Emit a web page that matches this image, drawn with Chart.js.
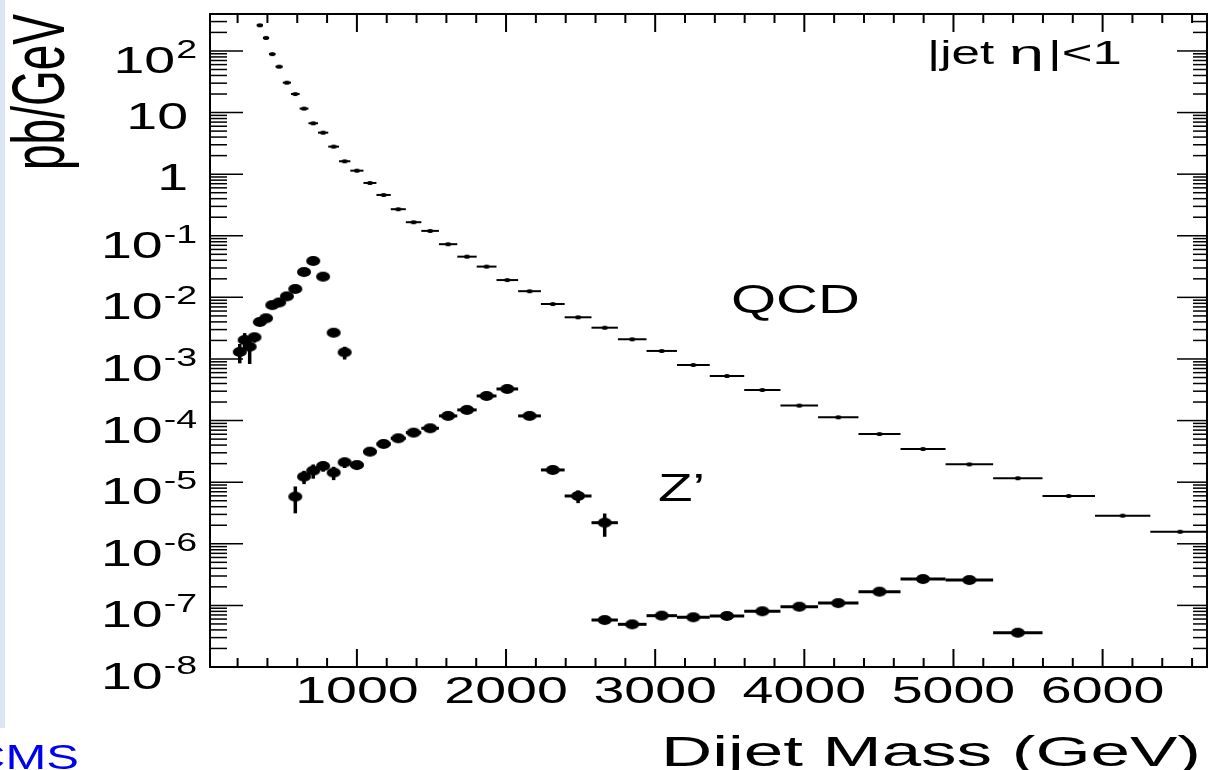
<!DOCTYPE html>
<html>
<head>
<meta charset="utf-8">
<title>Dijet Mass - QCD and Z'</title>
<script src="https://cdn.jsdelivr.net/npm/chart.js@4/dist/chart.umd.min.js"></script>
<style>
  html, body { margin: 0; padding: 0; background: #fff; }
  canvas { display: block; }
</style>
</head>
<body>
<canvas id="myChart" width="1212" height="770"></canvas>
<script>
// dijet mass bin edges (GeV)
const binEdges = [198, 231, 264, 298, 328, 370, 411, 454, 503, 558, 616, 675, 739, 808, 880, 956,
  1044, 1131, 1227, 1328, 1432, 1550, 1673, 1803, 1936, 2081, 2234, 2393, 2573, 2750, 2942, 3146,
  3366, 3597, 3840, 4092, 4363, 4645, 4947, 5266, 5597, 5949, 6320, 6720];

// QCD (pb/GeV), starting at bin 4
const qcdFirstBin = 4;
const qcdValues = [261, 163, 89, 55.6, 30.6, 20, 11.6, 6.7, 4.72, 2.8, 1.62, 1.14, 0.72, 0.46, 0.27,
  0.166, 0.12, 0.073, 0.0458, 0.0316, 0.0191, 0.0126, 7.8e-3, 4.75e-3, 3.22e-3, 2.09e-3, 1.35e-3,
  8.0e-4, 5.3e-4, 3.14e-4, 1.75e-4, 1.13e-4, 6.05e-5, 3.46e-5, 1.95e-5, 1.16e-5, 5.97e-6, 2.86e-6, 1.57e-6];

// Z' 0.7 TeV
const zp700FirstBin = 0;
const zp700Values = [1.30e-3, 2.03e-3, 1.58e-3, 2.25e-3, 3.99e-3, 4.58e-3, 7.5e-3, 8.26e-3, 1.04e-2,
  1.37e-2, 2.58e-2, 3.90e-2, 2.17e-2, 2.67e-3, 1.28e-3];
const zp700Errors = [0.45e-3, 0.6e-3, 0.75e-3, 0.4e-3, 0.5e-3, 0.5e-3, 0.5e-3, 0.6e-3, 0.7e-3,
  0.8e-3, 1.0e-3, 1.2e-3, 1.0e-3, 0.3e-3, 0.3e-3];

// Z' 2 TeV
const zp2000FirstBin = 9;
const zp2000Values = [5.82e-6, 1.23e-5, 1.54e-5, 1.83e-5, 1.43e-5, 2.1e-5, 1.9e-5, 3.13e-5, 4.17e-5,
  5.16e-5, 6.37e-5, 7.5e-5, 1.19e-4, 1.49e-4, 2.51e-4, 3.26e-4, 1.19e-4, 1.58e-5, 5.97e-6, 2.2e-6];
const zp2000Errors = [2.7e-6, 3e-6, 4e-6, 3.5e-6, 3.5e-6, 4e-6, 3e-6, 2e-6, 2.5e-6, 3e-6, 3.5e-6,
  4e-6, 5e-6, 6e-6, 8e-6, 9e-6, 5e-6, 1.2e-6, 1.4e-6, 0.9e-6];

// Z' 5 TeV
const zp5000FirstBin = 28;
const zp5000Values = [5.79e-8, 4.93e-8, 6.81e-8, 6.41e-8, 6.73e-8, 8.02e-8, 9.52e-8, 1.09e-7,
  1.67e-7, 2.68e-7, 2.58e-7, 3.6e-8];
const zp5000Errors = [1.5e-9, 1.5e-9, 2e-9, 2e-9, 2e-9, 2e-9, 2.5e-9, 3e-9, 4e-9, 5e-9, 5e-9, 1.5e-9];

// axis labels
const xTickLabels = [1000, 2000, 3000, 4000, 5000, 6000];
const xMinorStep = 200;
const yDecades = [-8, -7, -6, -5, -4, -3, -2, -1, 0, 1, 2];

const FONT = '"Liberation Sans", Arial, Helvetica, sans-serif';

function binnedPoints(first, values, errors) {
  return values.map((v, i) => ({
    x: (binEdges[first + i] + binEdges[first + i + 1]) / 2,
    y: v,
    xMin: binEdges[first + i],
    xMax: binEdges[first + i + 1],
    yErr: errors ? errors[i] : 0
  }));
}

// the reference is squeezed wide, so markers are ellipses
function ellipseMarker(w, h) {
  const c = document.createElement('canvas');
  c.width = w + 2;
  c.height = h + 2;
  const g = c.getContext('2d');
  g.fillStyle = '#000';
  g.beginPath();
  g.ellipse(c.width / 2, c.height / 2, w / 2, h / 2, 0, 0, Math.PI * 2);
  g.fill();
  return c;
}

// text drawn wider than its font, like in the reference
function wideText(ctx, text, x, y, size, sx, align) {
  ctx.save();
  ctx.font = size + 'px ' + FONT;
  const w = ctx.measureText(text).width * sx;
  let left = x;
  if (align === 'center') left = x - w / 2;
  else if (align === 'right') left = x - w;
  ctx.translate(left, y);
  ctx.scale(sx, 1);
  ctx.textAlign = 'left';
  ctx.textBaseline = 'alphabetic';
  ctx.fillText(text, 0, 0);
  ctx.restore();
  return w;
}

function line(ctx, x1, y1, x2, y2) {
  ctx.beginPath();
  ctx.moveTo(x1, y1);
  ctx.lineTo(x2, y2);
  ctx.stroke();
}

const errorBars = {
  id: 'errorBars',
  beforeDatasetsDraw(chart) {
    const { ctx, chartArea: a, scales: { x, y } } = chart;
    ctx.save();
    ctx.beginPath();
    ctx.rect(a.left, a.top, a.right - a.left, a.bottom - a.top);
    ctx.clip();
    ctx.strokeStyle = '#000';
    chart.data.datasets.forEach((ds) => {
      ds.data.forEach((p) => {
        const py = y.getPixelForValue(p.y);
        ctx.lineWidth = ds.barWidth;
        line(ctx, x.getPixelForValue(p.xMin), py, x.getPixelForValue(p.xMax), py);
        if (p.yErr > 0) {
          const px = x.getPixelForValue(p.x);
          const lo = Math.max(p.y - p.yErr, y.min);
          ctx.lineWidth = ds.errWidth;
          line(ctx, px, y.getPixelForValue(p.y + p.yErr), px, y.getPixelForValue(lo));
        }
      });
    });
    ctx.restore();
  }
};

const rootAxes = {
  id: 'rootAxes',
  beforeDraw(chart) {
    const ctx = chart.ctx;
    ctx.save();
    ctx.fillStyle = '#dce5f4';
    ctx.fillRect(0, 0, 5, 728);
    ctx.restore();
  },
  afterDraw(chart) {
    const { ctx, chartArea: a, scales: { x, y } } = chart;
    ctx.save();
    ctx.strokeStyle = '#000';
    ctx.fillStyle = '#000';

    // y ticks, inside, both sides
    ctx.lineWidth = 1.5;
    yDecades.forEach((k) => {
      for (let m = 1; m <= 9; m++) {
        const v = m * Math.pow(10, k);
        if (v < y.min || v > y.max) continue;
        const py = y.getPixelForValue(v);
        const major = m === 1;
        line(ctx, a.left, py, a.left + (major ? 33 : 17), py);
        line(ctx, a.right, py, a.right - (major ? 30 : 14), py);
      }
    });

    // x ticks
    ctx.lineWidth = 2;
    for (let v = xMinorStep; v < x.max; v += xMinorStep) {
      const px = x.getPixelForValue(v);
      const major = xTickLabels.includes(v);
      line(ctx, px, a.bottom, px, a.bottom - (major ? 18 : 9));
      line(ctx, px, a.top, px, a.top + (major ? 18 : 9));
    }

    // frame
    ctx.lineWidth = 2;
    ctx.strokeRect(a.left, a.top, a.right - a.left, a.bottom - a.top);

    // y labels
    yDecades.forEach((k) => {
      const py = y.getPixelForValue(Math.pow(10, k));
      if (k === 0 || k === 1) {
        wideText(ctx, k === 0 ? '1' : '10', 188, py + 16, 37, 1.5, 'right');
      } else {
        const ws = wideText(ctx, String(k), 197, py + 7, 25, 1.5, 'right');
        wideText(ctx, '10', 197 - ws - 1, py + 22, 37, 1.5, 'right');
      }
    });

    // x labels
    xTickLabels.forEach((v) => {
      wideText(ctx, String(v), x.getPixelForValue(v), 703, 37, 1.5, 'center');
    });

    // axis titles
    wideText(ctx, 'Dijet Mass (GeV)', 1201, 766, 43, 1.65, 'right');
    ctx.save();
    ctx.translate(64, 170);
    ctx.rotate(-Math.PI / 2);
    ctx.scale(1, 1.6);
    ctx.font = '46px ' + FONT;
    ctx.textAlign = 'left';
    ctx.fillText('pb/GeV', 0, 0);
    ctx.restore();

    // annotations
    wideText(ctx, 'QCD', 731, 313, 40, 1.45, 'left');
    wideText(ctx, 'Z\u2019', 658, 501, 39, 1.45, 'left');
    wideText(ctx, '|jet', 927, 64, 34, 1.5, 'left');
    wideText(ctx, '\u03b7', 1009, 64, 34, 1.85, 'left');
    wideText(ctx, '|<1', 1048, 64, 34, 1.55, 'left');

    ctx.fillStyle = '#0000ee';
    wideText(ctx, 'CMS', -30, 769, 35, 1.4, 'left');
    ctx.restore();
  }
};

const bigDot = ellipseMarker(14, 10);
const smallDot = ellipseMarker(6, 4);

const ctx = document.getElementById('myChart').getContext('2d');
const myChart = new Chart(ctx, {
  type: 'scatter',
  data: {
    datasets: [
      {
        label: 'QCD',
        data: binnedPoints(qcdFirstBin, qcdValues, null),
        pointStyle: smallDot,
        barWidth: 2,
        errWidth: 2
      },
      {
        label: "Z' 0.7 TeV",
        data: binnedPoints(zp700FirstBin, zp700Values, zp700Errors),
        pointStyle: bigDot,
        barWidth: 3,
        errWidth: 3.5
      },
      {
        label: "Z' 2 TeV",
        data: binnedPoints(zp2000FirstBin, zp2000Values, zp2000Errors),
        pointStyle: bigDot,
        barWidth: 3,
        errWidth: 3.5
      },
      {
        label: "Z' 5 TeV",
        data: binnedPoints(zp5000FirstBin, zp5000Values, zp5000Errors),
        pointStyle: bigDot,
        barWidth: 3,
        errWidth: 3.5
      }
    ]
  },
  options: {
    responsive: false,
    devicePixelRatio: 1,
    animation: false,
    events: [],
    layout: { padding: { top: 14, right: 5, left: 0, bottom: 0 } },
    plugins: {
      legend: { display: false },
      tooltip: { enabled: false }
    },
    scales: {
      x: {
        type: 'linear',
        min: 15,
        max: 6700,
        grid: { display: false },
        border: { display: false },
        ticks: { display: false },
        afterFit: (scale) => { scale.height = 103; }
      },
      y: {
        type: 'logarithmic',
        min: 1e-8,
        max: 398,
        grid: { display: false },
        border: { display: false },
        ticks: { display: false },
        afterFit: (scale) => { scale.width = 210; }
      }
    }
  },
  plugins: [errorBars, rootAxes]
});
</script>
</body>
</html>
